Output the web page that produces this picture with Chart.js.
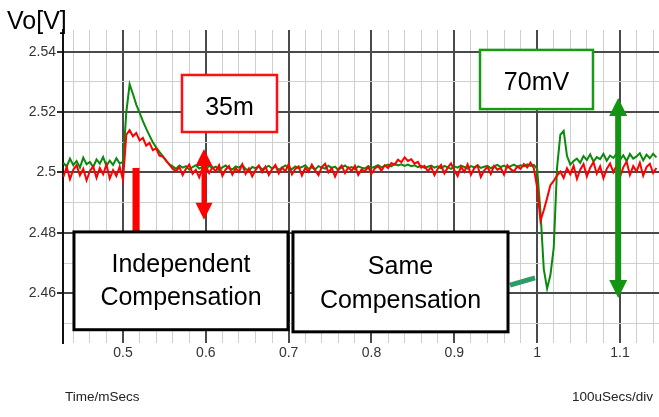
<!DOCTYPE html>
<html>
<head>
<meta charset="utf-8">
<script src="https://cdn.jsdelivr.net/npm/chart.js@4.4.1/dist/chart.umd.min.js"></script>
<style>
  html, body { margin: 0; padding: 0; background: #fff; }
  #wrap { width: 659px; height: 417px; }
</style>
</head>
<body>
<div id="wrap"><canvas id="c" width="659" height="417"></canvas></div>
<script>
// Output voltage Vo during the load-step transient, one sample every 4 us
const T_START = 0.428;   // ms
const T_STEP = 0.004;    // ms

// Same compensation (green trace), volts
const sameComp = [
  2.5032, 2.5019, 2.5046, 2.5024, 2.5038, 2.5016, 2.5049, 2.5027, 2.5035, 2.5018, 2.5043, 2.5029, 2.5051, 2.5022, 2.5039, 2.5025, 2.5047, 2.5030,
  2.5035, 2.5200, 2.5292, 2.5260, 2.5225, 2.5198, 2.5170, 2.5145, 2.5122, 2.5100, 2.5083, 2.5068, 2.5054, 2.5039, 2.5027, 2.5020,
  2.5012, 2.5023, 2.5016, 2.5021, 2.5009, 2.5018, 2.5024, 2.5013, 2.5019, 2.5011,
  2.5022, 2.5015, 2.5019, 2.5008, 2.5017, 2.5023, 2.5014, 2.5010, 2.5020, 2.5016,
  2.5025, 2.5012, 2.5006, 2.5018, 2.5014, 2.5021, 2.5010, 2.5017, 2.5022, 2.5013,
  2.5019, 2.5009, 2.5016, 2.5023, 2.5015, 2.5011, 2.5020, 2.5014, 2.5018, 2.5024,
  2.5012, 2.5017, 2.5010, 2.5021, 2.5016, 2.5013, 2.5022, 2.5015, 2.5019, 2.5008,
  2.5017, 2.5023, 2.5014, 2.5018, 2.5011, 2.5020, 2.5016, 2.5013, 2.5021, 2.5015,
  2.5019, 2.5024, 2.5017, 2.5022, 2.5026, 2.5020, 2.5028, 2.5023, 2.5027, 2.5022,
  2.5026, 2.5021, 2.5024, 2.5018, 2.5022, 2.5015, 2.5019, 2.5023, 2.5016, 2.5020,
  2.5014, 2.5022, 2.5017, 2.5012, 2.5020, 2.5016, 2.5023, 2.5018, 2.5013, 2.5021,
  2.5017, 2.5024, 2.5015, 2.5019, 2.5022, 2.5014, 2.5020, 2.5025, 2.5018, 2.5023,
  2.5016, 2.5021, 2.5026, 2.5019, 2.5024, 2.5020, 2.5027, 2.5022, 2.5025,
  2.5012, 2.4870, 2.4680, 2.4615, 2.4660, 2.4750, 2.5015, 2.5125, 2.5138, 2.5055,
  2.5026, 2.5038, 2.5046, 2.5032, 2.5054, 2.5041, 2.5060, 2.5036, 2.5051, 2.5044,
  2.5062, 2.5039, 2.5056, 2.5048, 2.5063, 2.5042, 2.5057, 2.5038, 2.5061, 2.5046,
  2.5053, 2.5064, 2.5040, 2.5059, 2.5047, 2.5062, 2.5050
];

// Independent compensation (red trace), volts
const indepComp = [
  2.4985, 2.5018, 2.4978, 2.5009, 2.5024, 2.4990, 2.5012, 2.4974, 2.5004, 2.5020, 2.4982, 2.5015, 2.4994, 2.5026, 2.4980, 2.5008, 2.4988, 2.5019,
  2.4975,
  2.5125, 2.5140, 2.5120, 2.5131, 2.5106, 2.5115, 2.5089, 2.5098, 2.5074, 2.5080, 2.5056, 2.5053, 2.5039, 2.5026, 2.5012,
  2.5004, 2.5018, 2.4991, 2.5012, 2.5026, 2.4996, 2.5009, 2.4984, 2.5015, 2.5022,
  2.4998, 2.5017, 2.5003, 2.5024, 2.4989, 2.5010, 2.5021, 2.4993, 2.5014, 2.5002,
  2.5027, 2.4995, 2.5013, 2.4987, 2.5008, 2.5023, 2.5001, 2.5019, 2.4992, 2.5011,
  2.5025, 2.4997, 2.5016, 2.5004, 2.5028, 2.4994, 2.5012, 2.5020, 2.4990, 2.5015,
  2.5002, 2.5026, 2.5007, 2.4991, 2.5018, 2.5029, 2.5000, 2.5014, 2.4986, 2.5011,
  2.5023, 2.4998, 2.5017, 2.5005, 2.5022, 2.4992, 2.5010, 2.5003, 2.5019, 2.4996,
  2.5013, 2.5021, 2.5006, 2.5024, 2.5015, 2.5031, 2.5026, 2.5042, 2.5034, 2.5050,
  2.5038, 2.5044, 2.5029, 2.5035, 2.5016, 2.5022, 2.5004, 2.5018, 2.4991, 2.5012,
  2.5025, 2.4997, 2.5016, 2.5030, 2.5007, 2.4988, 2.5019, 2.5002, 2.5027, 2.4992,
  2.5014, 2.5023, 2.4985, 2.5006, 2.5019, 2.4995, 2.5022, 2.5009, 2.5015, 2.4993,
  2.5024, 2.5011, 2.5003, 2.5020, 2.5012, 2.5028, 2.5017, 2.5033, 2.5014,
  2.4950, 2.4840, 2.4875, 2.4915, 2.4958, 2.4972, 2.4990, 2.5003, 2.4982, 2.5014,
  2.4994, 2.5022, 2.4979, 2.5009, 2.5028, 2.4987, 2.5016, 2.5034, 2.4996, 2.5020,
  2.4981, 2.5012, 2.5030, 2.5001, 2.5024, 2.4985, 2.5017, 2.5036, 2.4992, 2.5021,
  2.5003, 2.5032, 2.4989, 2.5018, 2.5029, 2.4998, 2.5015
];

// Axis ticks
const xTickValues = [0.5, 0.6, 0.7, 0.8, 0.9, 1.0, 1.1];
const xTickLabels = ['0.5', '0.6', '0.7', '0.8', '0.9', '1', '1.1'];
const yTickValues = [2.46, 2.48, 2.50, 2.52, 2.54];
const yTickLabels = ['2.46', '2.48', '2.5', '2.52', '2.54'];

const yAxisTitle = 'Vo[V]';
const xAxisTitle = 'Time/mSecs';
const xAxisScale = '100uSecs/div';

// Callouts, placed in data units (ms, V)
const callouts = {
  boxes: [
    { x0: 0.5712, x1: 0.6859, y0: 2.5323, y1: 2.5134, border: '#ff1010', lw: 2.5, lines: ['35m'], font: 25, base: [40] },
    { x0: 0.9310, x1: 1.0674, y0: 2.5406, y1: 2.5210, border: '#179a17', lw: 2.5, lines: ['70mV'], font: 25, base: [40] },
    { x0: 0.4408, x1: 0.6992, y0: 2.4803, y1: 2.4479, border: '#000000', lw: 3, lines: ['Independent', 'Compensation'], font: 25, base: [40, 73] },
    { x0: 0.7052, x1: 0.9648, y0: 2.4803, y1: 2.4472, border: '#000000', lw: 3, lines: ['Same', 'Compensation'], font: 25, base: [42, 76] }
  ],
  bar: { x: 0.5157, y0: 2.5015, y1: 2.4803, color: '#ff0000', lw: 7 },
  arrows: [
    { x: 0.5978, y0: 2.5078, y1: 2.4843, color: '#ff0000', lw: 5, head: 17 },
    { x: 1.0978, y0: 2.5247, y1: 2.4584, color: '#139413', lw: 6, head: 18 }
  ],
  link: { x0: 0.9672, y0: 2.4627, x1: 0.9974, y1: 2.4651, color: '#2f9a6a', lw: 5 }
};

const toPoints = arr => arr.map((v, i) => ({ x: T_START + i * T_STEP, y: v }));
const isMajor = (v, step) => Math.abs(v / step - Math.round(v / step)) < 1e-6;
const labelFor = (v, vals, labels) => {
  const k = vals.findIndex(t => Math.abs(t - v) < 1e-6);
  return k >= 0 ? labels[k] : '';
};
const FONT = '"Liberation Sans", Arial, sans-serif';

const overlay = {
  id: 'overlay',
  afterDatasetsDraw(chart) {
    const { ctx, scales: { x, y } } = chart;
    ctx.save();

    // connector from the box to the dip
    const L = callouts.link;
    ctx.strokeStyle = L.color; ctx.lineWidth = L.lw; ctx.lineCap = 'butt';
    ctx.beginPath();
    ctx.moveTo(x.getPixelForValue(L.x0), y.getPixelForValue(L.y0));
    ctx.lineTo(x.getPixelForValue(L.x1), y.getPixelForValue(L.y1));
    ctx.stroke();

    // marker bar
    const B = callouts.bar;
    ctx.strokeStyle = B.color; ctx.lineWidth = B.lw;
    ctx.beginPath();
    ctx.moveTo(x.getPixelForValue(B.x), y.getPixelForValue(B.y0));
    ctx.lineTo(x.getPixelForValue(B.x), y.getPixelForValue(B.y1));
    ctx.stroke();

    // double-headed arrows
    callouts.arrows.forEach(a => {
      const px = x.getPixelForValue(a.x);
      const top = y.getPixelForValue(a.y0);
      const bot = y.getPixelForValue(a.y1);
      const h = a.head;
      ctx.strokeStyle = a.color; ctx.fillStyle = a.color; ctx.lineWidth = a.lw;
      ctx.beginPath();
      ctx.moveTo(px, top + h - 2);
      ctx.lineTo(px, bot - h + 2);
      ctx.stroke();
      ctx.beginPath();
      ctx.moveTo(px, top); ctx.lineTo(px - h / 2, top + h); ctx.lineTo(px + h / 2, top + h); ctx.closePath();
      ctx.fill();
      ctx.beginPath();
      ctx.moveTo(px, bot); ctx.lineTo(px - h / 2, bot - h); ctx.lineTo(px + h / 2, bot - h); ctx.closePath();
      ctx.fill();
    });

    // text boxes
    callouts.boxes.forEach(b => {
      const l = x.getPixelForValue(b.x0), r = x.getPixelForValue(b.x1);
      const t = y.getPixelForValue(b.y0), btm = y.getPixelForValue(b.y1);
      ctx.fillStyle = '#ffffff';
      ctx.fillRect(l, t, r - l, btm - t);
      ctx.strokeStyle = b.border; ctx.lineWidth = b.lw;
      ctx.strokeRect(l, t, r - l, btm - t);
      ctx.fillStyle = '#000000';
      ctx.font = b.font + 'px ' + FONT;
      ctx.textAlign = 'center'; ctx.textBaseline = 'alphabetic';
      b.lines.forEach((s, k) => ctx.fillText(s, (l + r) / 2, t + b.base[k]));
    });
    ctx.restore();
  },
  afterDraw(chart) {
    const { ctx } = chart;
    ctx.save();
    ctx.fillStyle = '#000';
    ctx.textBaseline = 'alphabetic';
    ctx.font = '25px ' + FONT;
    ctx.textAlign = 'left';
    ctx.fillText(yAxisTitle, 7, 29);
    ctx.fillStyle = '#222';
    ctx.font = '13.5px ' + FONT;
    ctx.fillText(xAxisTitle, 65, 401);
    ctx.textAlign = 'right';
    ctx.fillText(xAxisScale, 653, 401);
    ctx.restore();
  }
};

new Chart(document.getElementById('c'), {
  type: 'line',
  data: {
    datasets: [
      { label: 'Same Compensation', data: toPoints(sameComp), borderColor: '#0a8a0a', borderWidth: 2, pointRadius: 0, tension: 0, order: 2 },
      { label: 'Independent Compensation', data: toPoints(indepComp), borderColor: '#ff0000', borderWidth: 2, pointRadius: 0, tension: 0, order: 1 }
    ]
  },
  options: {
    responsive: false,
    animation: false,
    events: [],
    layout: { padding: { top: 30, left: 0, right: 0, bottom: 0 } },
    plugins: { legend: { display: false }, tooltip: { enabled: false }, title: { display: false } },
    scales: {
      x: {
        type: 'linear',
        min: 0.42756,
        max: 1.1471,
        afterFit: s => { s.height = 74; },
        border: { display: false },
        grid: {
          drawTicks: false,
          color: c => isMajor(c.tick.value, 0.1) ? '#4a4a4a' : '#cfcfcf',
          lineWidth: c => isMajor(c.tick.value, 0.1) ? 2 : 1
        },
        ticks: {
          stepSize: 0.02,
          includeBounds: false,
          maxTicksLimit: 1000,
          autoSkip: false,
          maxRotation: 0,
          padding: 2,
          color: '#333',
          font: { family: FONT, size: 14 },
          callback: v => labelFor(v, xTickValues, xTickLabels)
        }
      },
      y: {
        type: 'linear',
        min: 2.4435,
        max: 2.5472,
        afterFit: s => { s.width = 63; },
        border: { display: true, color: '#111', width: 2 },
        grid: {
          drawTicks: true,
          tickLength: 6,
          color: c => isMajor(c.tick.value, 0.02) ? '#4a4a4a' : '#cfcfcf',
          lineWidth: c => isMajor(c.tick.value, 0.02) ? 2 : 1,
          tickColor: c => isMajor(c.tick.value, 0.02) ? '#333' : 'rgba(0,0,0,0)'
        },
        ticks: {
          stepSize: 0.01,
          includeBounds: false,
          maxTicksLimit: 1000,
          autoSkip: false,
          padding: 1,
          color: '#333',
          font: { family: FONT, size: 14 },
          callback: v => labelFor(v, yTickValues, yTickLabels)
        }
      }
    }
  },
  plugins: [overlay]
});
</script>
</body>
</html>
